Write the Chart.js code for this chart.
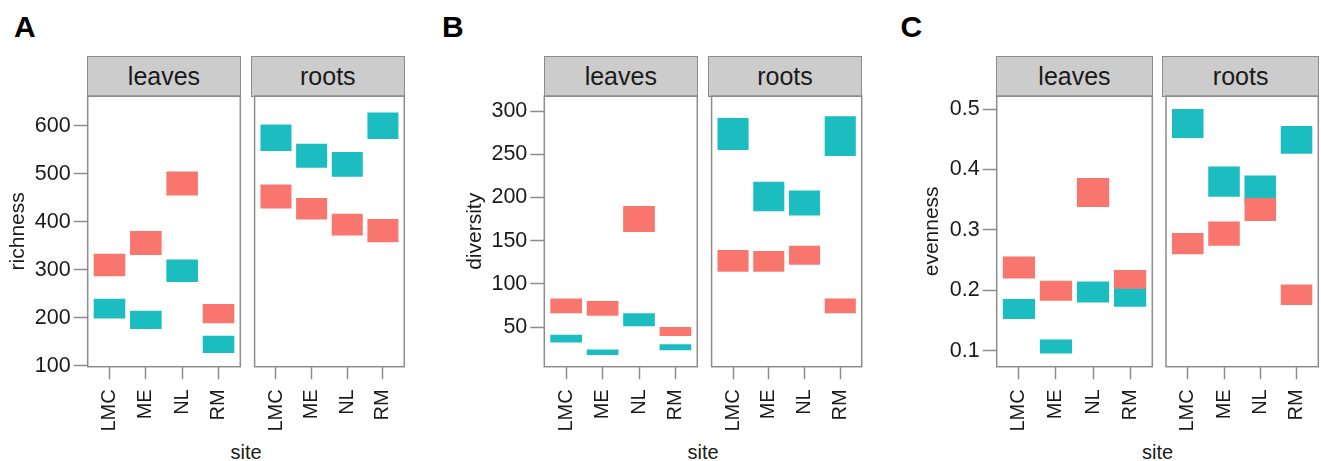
<!DOCTYPE html>
<html>
<head>
<meta charset="utf-8">
<script src="https://cdn.jsdelivr.net/npm/chart.js@4.4.0/dist/chart.umd.min.js"></script>
<style>
body { margin: 0; background: #fff; width: 1321px; height: 461px; overflow: hidden; position: relative;
       font-family: "Liberation Sans", Arial, sans-serif; }
canvas { position: absolute; }
.strip { position: absolute; box-sizing: border-box; background: #cccccc; border: 1.5px solid #8c8c8c;
         font-size: 25px; color: #1a1a1a; display: flex; align-items: center; justify-content: center; }
.letter { position: absolute; font-weight: bold; font-size: 30px; line-height: 30px; color: #000; }
.xtitle { position: absolute; font-size: 20px; line-height: 20px; color: #1a1a1a; transform: translateX(-50%); }
</style>
</head>
<body>
<script>
// sites on the x axis, tissues in the facet strips
const sites = ['LMC', 'ME', 'NL', 'RM'];
const tissues = ['leaves', 'roots'];

// each entry = [low, high] of the jittered point cloud for that site
const richnessLeavesSalmon = [[287, 334], [331, 381], [455, 505], [189, 229]];
const richnessLeavesTeal   = [[199, 240], [177, 215], [275, 322], [127, 163]];
const richnessRootsSalmon  = [[428, 478], [405, 450], [372, 417], [358, 406]];
const richnessRootsTeal    = [[548, 603], [513, 563], [494, 546], [573, 628]];
const richnessTicks = [100, 200, 300, 400, 500, 600];

const diversityLeavesSalmon = [[66, 83], [63, 80], [160, 190], [39.5, 50]];
const diversityLeavesTeal   = [[32, 41], [17.5, 24], [51, 66], [23, 30]];
const diversityRootsSalmon  = [[114, 139], [114, 138], [122, 144], [66, 83]];
const diversityRootsTeal    = [[255, 292], [184, 218], [179, 208], [248, 294]];
const diversityTicks = [50, 100, 150, 200, 250, 300];

const evennessLeavesSalmon = [[0.220, 0.256], [0.183, 0.216], [0.338, 0.386], [0.203, 0.234]];
const evennessLeavesTeal   = [[0.153, 0.186], [0.096, 0.119], [0.180, 0.215], [0.173, 0.206]];
const evennessRootsSalmon  = [[0.260, 0.295], [0.274, 0.314], [0.315, 0.353], [0.176, 0.210]];
const evennessRootsTeal    = [[0.452, 0.500], [0.355, 0.405], [0.345, 0.390], [0.426, 0.472]];
const evennessTicks = [0.1, 0.2, 0.3, 0.4, 0.5];

const salmon = '#F8766D';
const teal = '#1CBDC1';
const boxColor = '#8c8c8c';
const textColor = '#1a1a1a';

Chart.defaults.font.family = 'Liberation Sans';
Chart.defaults.font.size = 20;

// layout of the three panels (pixel positions of the facet boxes)
const plotTop = 96, plotBottom = 366.7, stripTop = 56.7;
const canvasTop = 93, canvasBottom = 446;

const panels = [
  { letter: 'A', letterX: 14, title: 'richness', titleX: 19, ticks: richnessTicks, yMin: 98.5, yMax: 662.5,
    boxes: [[87.7, 240.3], [251.3, 404.3]],
    series: [[richnessLeavesSalmon, richnessLeavesTeal], [richnessRootsSalmon, richnessRootsTeal]] },
  { letter: 'B', letterX: 442, title: 'diversity', titleX: 476, ticks: diversityTicks, yMin: 4.05, yMax: 317.4,
    boxes: [[544.3, 697.3], [708.3, 861.7]],
    series: [[diversityLeavesSalmon, diversityLeavesTeal], [diversityRootsSalmon, diversityRootsTeal]] },
  { letter: 'C', letterX: 900.5, title: 'evenness', titleX: 933.5, ticks: evennessTicks, yMin: 0.074, yMax: 0.5215,
    boxes: [[996.7, 1152.3], [1163, 1318.3]],
    series: [[evennessLeavesSalmon, evennessLeavesTeal], [evennessRootsSalmon, evennessRootsTeal]] }
];

const boxPlugin = {
  id: 'box',
  afterDatasetsDraw(chart) {
    const a = chart.chartArea, c = chart.ctx;
    c.save();
    c.strokeStyle = boxColor;
    c.lineWidth = 1.5;
    c.strokeRect(a.left, a.top, a.right - a.left, a.bottom - a.top);
    c.restore();
  }
};

function addDiv(cls, text, style) {
  const d = document.createElement('div');
  d.className = cls;
  d.textContent = text;
  Object.assign(d.style, style);
  document.body.appendChild(d);
}

function toBars(ranges) {
  return ranges.map((r, i) => ({ x: i + 1, y: r }));
}

panels.forEach(p => {
  addDiv('letter', p.letter, { left: p.letterX + 'px', top: '11.6px' });
  addDiv('xtitle', 'site', { left: ((p.boxes[0][0] + p.boxes[1][1]) / 2) + 'px', top: '442px' });

  p.boxes.forEach((b, k) => {
    const withAxis = k === 0;
    const left = Math.floor(withAxis ? p.titleX - 12.6 : b[0] - 3);
    const w = Math.ceil(b[1] + 3 - left);
    const h = canvasBottom - canvasTop;

    addDiv('strip', tissues[k], {
      left: (b[0] - 0.75) + 'px', top: (stripTop - 0.75) + 'px',
      width: (b[1] - b[0] + 1.5) + 'px', height: (plotTop - stripTop + 1.5) + 'px'
    });

    const cv = document.createElement('canvas');
    cv.width = w; cv.height = h;
    cv.style.left = left + 'px';
    cv.style.top = canvasTop + 'px';
    document.body.appendChild(cv);

    const [salmonData, tealData] = p.series[k];
    new Chart(cv.getContext('2d'), {
      type: 'bar',
      data: {
        datasets: [
          { data: toBars(salmonData), backgroundColor: salmon },
          { data: toBars(tealData), backgroundColor: teal }
        ]
      },
      options: {
        responsive: false,
        animation: false,
        devicePixelRatio: 1,
        grouped: false,
        barPercentage: 0.87,
        categoryPercentage: 1,
        layout: { padding: { left: withAxis ? 0 : b[0] - left, top: plotTop - canvasTop, right: w - (b[1] - left), bottom: 0 } },
        plugins: { legend: { display: false }, tooltip: { enabled: false } },
        scales: {
          x: {
            type: 'linear', min: 0.4, max: 4.6, offset: false,
            afterBuildTicks: s => { s.ticks = sites.map((_, i) => ({ value: i + 1 })); },
            afterFit: s => { s.height = canvasBottom - plotBottom; s.paddingLeft = 0; s.paddingRight = 0; },
            border: { display: false },
            grid: { offset: false, drawOnChartArea: false, drawTicks: true, tickLength: 12.6, tickColor: boxColor, tickWidth: 1.5 },
            ticks: { autoSkip: false, minRotation: 90, maxRotation: 90, padding: 10, color: textColor,
                     font: { size: 20 }, callback: (v, i) => sites[i] }
          },
          y: {
            display: withAxis,
            min: p.yMin, max: p.yMax,
            afterBuildTicks: s => { s.ticks = p.ticks.map(v => ({ value: v })); },
            afterFit: s => { s.width = b[0] - left; s.paddingTop = 0; s.paddingBottom = 0; },
            border: { display: false },
            grid: { drawOnChartArea: false, drawTicks: true, tickLength: 14, tickColor: boxColor, tickWidth: 1.5 },
            ticks: { padding: 3, color: textColor, font: { size: 21.5 }, callback: v => String(v) },
            title: { display: true, text: p.title, color: textColor, padding: 0,
                     font: { size: 21, lineHeight: 1.2 } }
          }
        }
      },
      plugins: [boxPlugin]
    });
  });
});
</script>
</body>
</html>
